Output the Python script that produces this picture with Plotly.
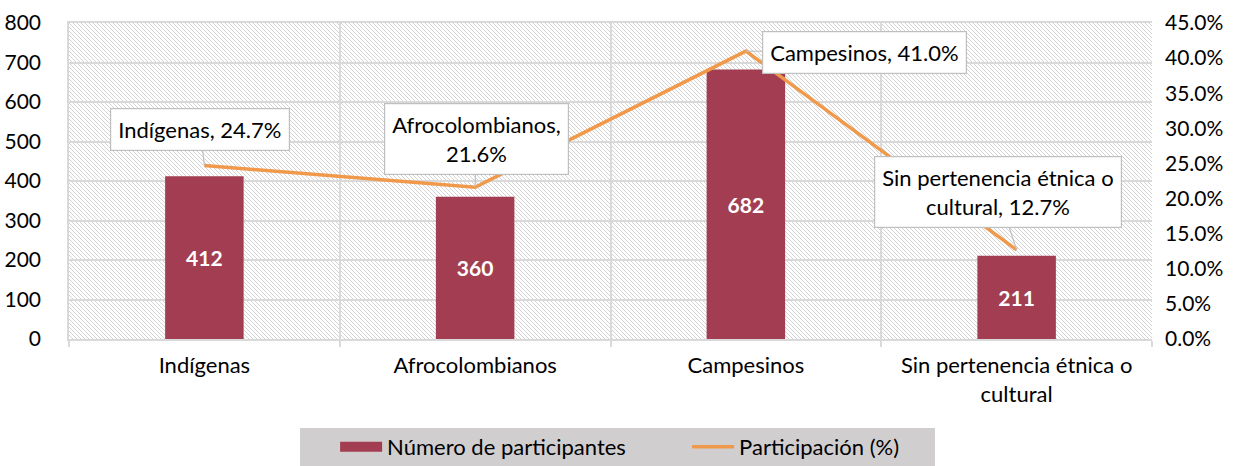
import base64
import plotly.graph_objects as go

categories = ["Indígenas", "Afrocolombianos", "Campesinos", "Sin pertenencia étnica o<br>cultural"]
participants = [412, 360, 682, 211]
share_pct = [24.7, 21.6, 41.0, 12.7]
callout_labels = [
    "Indígenas, 24.7%",
    "Afrocolombianos,<br>21.6%",
    "Campesinos, 41.0%",
    "Sin pertenencia étnica o<br>cultural, 12.7%",
]

left_ticks = list(range(0, 801, 100))
right_ticks = [0, 5, 10, 15, 20, 25, 30, 35, 40, 45]
right_ticktext = [f"{v:.1f}%" for v in right_ticks]

BAR_COLOR = "#A33E52"
LINE_COLOR = "#F0994B"
GRID = "#D9D9D9"
FONT = "Lato"

# plot area geometry (pixels)
W, H = 1237, 466
ml, mr, mt, mb = 69, 85, 23, 127
pw, ph = W - ml - mr, H - mt - mb

svg = f'''<svg xmlns="http://www.w3.org/2000/svg" width="{pw}" height="{ph}" viewBox="0 0 {pw} {ph}" preserveAspectRatio="none">
<defs><pattern id="p" width="4" height="4" patternUnits="userSpaceOnUse">
<rect width="4" height="4" fill="#ffffff"/>
<path d="M-1,-1 L5,5 M-1,3 L1,5 M3,-1 L5,1" stroke="#D4D4D4" stroke-width="1"/>
</pattern></defs>
<rect width="{pw}" height="{ph}" fill="url(#p)"/></svg>'''
src = "data:image/svg+xml;base64," + base64.b64encode(svg.encode()).decode()

fig = go.Figure()
fig.add_trace(go.Bar(
    x=categories, y=participants, name="Número de participantes",
    marker=dict(color=BAR_COLOR, line=dict(width=0)),
    text=[str(v) for v in participants], textposition="inside",
    insidetextanchor="middle",
    textfont=dict(color="white", size=21, family=FONT, weight="bold"),
    yaxis="y", showlegend=False,
))
# legend key for the bars (wide rectangle like the original)
fig.add_trace(go.Scatter(
    x=[None], y=[None], name="Número de participantes", mode="lines",
    line=dict(color=BAR_COLOR, width=13), yaxis="y",
))
fig.add_trace(go.Scatter(
    x=categories, y=share_pct, name="Participación (%)", mode="lines",
    line=dict(color=LINE_COLOR, width=3.5), yaxis="y2",
))

offsets = [(-4, -36), (1, -48), (119, 1), (-19, -58)]
for cat, val, lab, (ax, ay) in zip(categories, share_pct, callout_labels, offsets):
    fig.add_annotation(
        x=cat, y=val, xref="x", yref="y2", text=lab,
        showarrow=True, arrowhead=0, arrowwidth=1.2, arrowcolor="#BFBFBF",
        ax=ax, ay=ay, bgcolor="white", bordercolor="#BFBFBF", borderwidth=1.2,
        borderpad=7, font=dict(size=22, color="#000000", family=FONT),
    )

fig.add_layout_image(dict(
    source=src, xref="paper", yref="paper", x=0, y=1, sizex=1, sizey=1,
    xanchor="left", yanchor="top", sizing="stretch", layer="below",
))

# legend background box
fig.add_shape(
    type="rect", xref="paper", yref="paper",
    x0=(300 - ml) / pw, x1=(935 - ml) / pw,
    y0=(H - mb - 466) / ph, y1=(H - mb - 428) / ph,
    fillcolor="#D0CECE", line=dict(width=0), layer="below",
)

fig.update_layout(
    width=W, height=H,
    margin=dict(l=ml, r=mr, t=mt, b=mb, autoexpand=False),
    paper_bgcolor="white", plot_bgcolor="rgba(0,0,0,0)",
    font=dict(family=FONT, size=21, color="#000000"),
    bargap=0.71,
    showlegend=True,
    legend=dict(
        orientation="h", xref="container", yref="container",
        x=345 / W - 0.008, xanchor="left", y=1 - 447 / H, yanchor="middle",
        bgcolor="rgba(0,0,0,0)", font=dict(size=22, family=FONT),
        entrywidth=295, itemwidth=42, tracegroupgap=0,
    ),
    xaxis=dict(
        type="category", tickson="boundaries", showgrid=True, gridcolor=GRID,
        gridwidth=1.5, ticks="outside", ticklen=6, tickcolor=GRID, tickwidth=1.5,
        showline=True, linecolor=GRID, linewidth=1.5, automargin=False,
        mirror=True, tickfont=dict(size=22), ticklabelstandoff=6,
    ),
    yaxis=dict(
        range=[0, 800], tickvals=left_ticks, showgrid=True, gridcolor=GRID,
        gridwidth=1.5, showline=True, linecolor=GRID, linewidth=1.5,
        zeroline=False, tickfont=dict(size=21), ticks="", automargin=False,
        ticklabelstandoff=22,
    ),
    yaxis2=dict(
        range=[0, 45], tickvals=right_ticks, ticktext=right_ticktext,
        overlaying="y", side="right", automargin=False,
        showgrid=False, zeroline=False,
        showline=False, tickfont=dict(size=21), ticks="", ticklabelstandoff=12,
    ),
)

fig.write_html(
    "out.html",
    config={"displayModeBar": False},
    post_script="document.body.style.margin='0';",
)
